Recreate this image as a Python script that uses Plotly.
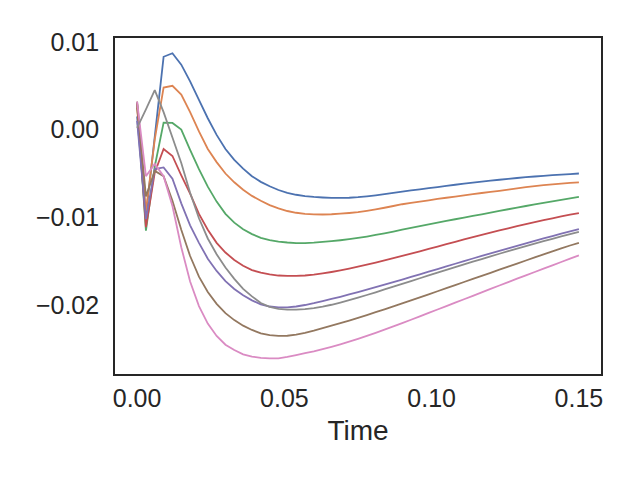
import plotly.graph_objects as go

time = [round(0.003 * i, 3) for i in range(51)]

# values in units of 1e-3
blue = [1.5, -9.8, -0.8, 8.3, 8.7, 7.4, 5.5, 3.4, 1.3, -0.6,
        -2.2, -3.45, -4.45, -5.3, -5.95, -6.45, -6.88, -7.2, -7.42, -7.57,
        -7.67, -7.73, -7.77, -7.78, -7.76, -7.7, -7.6, -7.48, -7.35, -7.2,
        -7.06, -6.93, -6.8, -6.67, -6.54, -6.41, -6.28, -6.15, -6.03, -5.92,
        -5.81, -5.71, -5.61, -5.51, -5.42, -5.34, -5.26, -5.19, -5.12, -5.06, -5.0]

orange = [2.5, -9.3, -1.1, 4.8, 5.0, 4.0, 2.0, -0.2, -2.2, -3.7,
          -5.0, -6.0, -6.85, -7.55, -8.1, -8.6, -8.98, -9.27, -9.47, -9.6,
          -9.66, -9.67, -9.64, -9.58, -9.5, -9.4, -9.25, -9.08, -8.9, -8.7,
          -8.5, -8.35, -8.2, -8.05, -7.9, -7.76, -7.62, -7.48, -7.35, -7.22,
          -7.1, -6.97, -6.84, -6.7, -6.56, -6.43, -6.33, -6.24, -6.15, -6.07, -6.0]

green = [3.0, -11.5, -4.2, 0.8, 0.76, 0.0, -2.3, -4.5, -6.5, -8.2,
         -9.6, -10.6, -11.35, -11.9, -12.32, -12.58, -12.76, -12.86, -12.92, -12.92,
         -12.87, -12.78, -12.7, -12.6, -12.48, -12.34, -12.18, -12.0, -11.81, -11.61,
         -11.4, -11.2, -11.0, -10.8, -10.6, -10.4, -10.21, -10.02, -9.83, -9.65,
         -9.45, -9.26, -9.07, -8.88, -8.7, -8.52, -8.34, -8.17, -8.0, -7.83, -7.67]

red = [3.0, -11.1, -4.9, -2.2, -3.0, -5.2, -7.3, -9.6, -11.4, -12.9,
       -14.0, -14.85, -15.5, -16.0, -16.3, -16.5, -16.62, -16.67, -16.67, -16.62,
       -16.52, -16.38, -16.22, -16.04, -15.84, -15.62, -15.39, -15.15, -14.9, -14.64,
       -14.38, -14.12, -13.86, -13.59, -13.32, -13.05, -12.78, -12.51, -12.25, -11.99,
       -11.74, -11.49, -11.24, -11.0, -10.76, -10.53, -10.31, -10.1, -9.89, -9.69, -9.5]

purple = [1.0, -10.2, -4.5, -4.3, -5.6, -8.4, -10.9, -12.9, -14.7, -16.1,
          -17.25, -18.15, -18.88, -19.45, -19.9, -20.15, -20.26, -20.25, -20.15, -19.98,
          -19.77, -19.53, -19.29, -19.04, -18.78, -18.51, -18.23, -17.95, -17.66, -17.37,
          -17.08, -16.78, -16.48, -16.18, -15.88, -15.58, -15.28, -14.98, -14.68, -14.39,
          -14.1, -13.81, -13.52, -13.24, -12.96, -12.68, -12.4, -12.13, -11.86, -11.6, -11.34]

brown = [3.2, -7.6, -4.7, -5.3, -8.1, -11.4, -14.4, -16.75, -18.5, -19.85,
         -20.9, -21.7, -22.33, -22.82, -23.2, -23.42, -23.5, -23.48, -23.35, -23.15,
         -22.9, -22.62, -22.34, -22.05, -21.75, -21.44, -21.12, -20.8, -20.47, -20.14,
         -19.8, -19.46, -19.11, -18.76, -18.41, -18.06, -17.71, -17.36, -17.01, -16.66,
         -16.31, -15.96, -15.61, -15.26, -14.91, -14.56, -14.21, -13.87, -13.53, -13.2, -12.9]

pink = [3.2, -5.3, -3.9, -5.3, -8.7, -13.4, -17.3, -20.1, -22.1, -23.5,
        -24.5, -25.1, -25.6, -25.85, -26.0, -26.06, -26.05, -25.9, -25.68, -25.45,
        -25.25, -25.0, -24.74, -24.46, -24.16, -23.84, -23.5, -23.15, -22.79, -22.42,
        -22.04, -21.66, -21.27, -20.88, -20.49, -20.1, -19.71, -19.32, -18.93, -18.54,
        -18.15, -17.76, -17.37, -16.98, -16.6, -16.22, -15.84, -15.46, -15.08, -14.7, -14.33]

gray = [0.2, 2.3, 4.5, 2.0, -0.9, -3.8, -7.2, -10.1, -12.4, -14.2,
        -15.7, -17.0, -18.15, -19.0, -19.75, -20.2, -20.43, -20.5, -20.5, -20.44,
        -20.33, -20.17, -19.95, -19.7, -19.43, -19.14, -18.84, -18.53, -18.21, -17.89,
        -17.57, -17.25, -16.93, -16.61, -16.29, -15.97, -15.66, -15.35, -15.04, -14.74,
        -14.44, -14.14, -13.85, -13.56, -13.27, -12.99, -12.71, -12.44, -12.17, -11.9, -11.64]

series = [blue, orange, green, red, purple, brown, pink, gray]
colors = ["#4C72B0", "#DD8452", "#55A868", "#C44E52", "#8172B3", "#937860", "#DA8BC3", "#8C8C8C"]

xtick_vals = [0.0, 0.05, 0.10, 0.15]
xtick_text = ["0.00", "0.05", "0.10", "0.15"]
ytick_vals = [0.01, 0.0, -0.01, -0.02]
ytick_text = ["0.01", "0.00", "\u22120.01", "\u22120.02"]

FONT = "Liberation Sans, Arial, sans-serif"

fig = go.Figure()
for s, c in zip(series, colors):
    fig.add_trace(go.Scatter(x=time, y=[v / 1000 for v in s], mode="lines",
                             line=dict(color=c, width=1.8, simplify=False), showlegend=False,
                             hoverinfo="skip"))

axis_common = dict(showgrid=False, zeroline=False, showline=True, mirror=True,
                   linecolor="#262626", linewidth=1.6, ticks="outside",
                   tickcolor="rgba(0,0,0,0)",
                   tickfont=dict(family=FONT, size=25, color="#262626"))

fig.update_layout(
    width=640, height=480,
    margin=dict(l=115, r=39, t=38, b=106),
    paper_bgcolor="white", plot_bgcolor="white",
    xaxis=dict(range=[-0.0075, 0.1575], tickvals=xtick_vals, ticktext=xtick_text, ticklen=1,
               title=dict(text="Time", font=dict(family=FONT, size=28, color="#262626"),
                          standoff=10),
               **axis_common),
    yaxis=dict(range=[-0.02784, 0.01044], tickvals=ytick_vals, ticktext=ytick_text, ticklen=9,
               **axis_common),
)

fig.write_html("out.html")
